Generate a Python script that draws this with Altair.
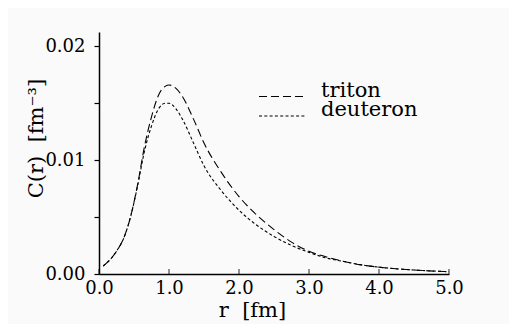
import altair as alt
import pandas as pd

r_vals = [0.06, 0.15, 0.25, 0.35, 0.45, 0.55, 0.65, 0.75, 0.85, 0.95, 1.0, 1.1, 1.2, 1.35, 1.5,
          1.75, 2.0, 2.25, 2.5, 2.75, 3.0, 3.25, 3.5, 3.75, 4.0, 4.5, 5.0]
triton = [0.0007, 0.0012, 0.0020, 0.0031, 0.0050, 0.0078, 0.0112, 0.0138, 0.0157, 0.0165, 0.0166,
          0.0163, 0.0155, 0.0136, 0.0115, 0.0089, 0.0068, 0.0052, 0.0039, 0.0028, 0.0020, 0.0015,
          0.0011, 0.0008, 0.0006, 0.00035, 0.0002]
deuteron = [0.0007, 0.0012, 0.0020, 0.0031, 0.0050, 0.0077, 0.0108, 0.0130, 0.0145, 0.0150, 0.0150,
            0.0145, 0.0135, 0.0115, 0.0095, 0.0073, 0.0056, 0.0043, 0.0033, 0.0025, 0.0019, 0.0014,
            0.0011, 0.0008, 0.0006, 0.00035, 0.0002]
series = ["triton", "deuteron"]
dashes = [[8, 4], [3, 2.3]]
x_ticks = [0, 1, 2, 3, 4, 5]
y_ticks = [0, 0.005, 0.01, 0.015, 0.02]

FONT = "DejaVu Serif"

xscale = alt.Scale(domain=[0, 5], nice=False)
yscale = alt.Scale(domain=[0, 0.02125], nice=False)

x_axis = alt.Axis(values=x_ticks, format=".1f", tickSize=0, title="r\u00a0\u00a0[fm]",
                  labelFontSize=18, labelPadding=5, labelFlush=False,
                  titleFontSize=21, titleFontWeight="normal",
                  titleX=153, titleY=42, titleBaseline="alphabetic")
y_axis = alt.Axis(values=y_ticks, tickSize=5, title="C(r)\u00a0\u00a0[fm⁻³]",
                  labelExpr="(datum.value == 0.005 || datum.value == 0.015) ? '' : format(datum.value, '.2f')",
                  labelFontSize=18, labelPadding=9, labelFlush=False,
                  titleFontSize=21, titleFontWeight="normal",
                  titleX=-63, titleY=106, titleBaseline="middle")

layers = []
legend_ys = [40, 59.5]
for i, (name, vals) in enumerate(zip(series, [triton, deuteron])):
    d = pd.DataFrame({"r": r_vals, "C": vals, "series": name})
    layers.append(
        alt.Chart(d).mark_line(color="black", strokeWidth=1.1, interpolate="monotone").encode(
            x=alt.X("r:Q", scale=xscale, axis=x_axis),
            y=alt.Y("C:Q", scale=yscale, axis=y_axis),
            strokeDash=alt.StrokeDash(
                "series:N",
                scale=alt.Scale(domain=[name], range=[dashes[i]]),
                legend=alt.Legend(title=None, orient="none", legendX=159, legendY=legend_ys[i],
                                  symbolType="stroke", symbolSize=2209, symbolStrokeWidth=1.1,
                                  symbolStrokeColor="black", labelFontSize=21, labelFont=FONT,
                                  labelColor="black", labelOffset=14, labelBaseline="alphabetic"),
            ),
        )
    )

ticks = alt.Chart(pd.DataFrame({"t": x_ticks})).mark_tick(
    color="black", orient="vertical", size=5, yOffset=-2.5, thickness=1.2
).encode(x=alt.X("t:Q", scale=xscale, axis=x_axis), y=alt.datum(0))

chart = alt.layer(*layers, ticks).resolve_scale(strokeDash="independent").resolve_legend(
    strokeDash="independent"
).properties(
    width=350, height=242,
    autosize="none",
    padding={"left": 91, "top": 24, "right": 60, "bottom": 50},
    background="#fafafa",
).configure_view(stroke=None).configure_axis(
    grid=False, domainColor="black", domainWidth=1.5, tickColor="black", tickWidth=1.2,
    labelColor="black", titleColor="black", labelFont=FONT, titleFont=FONT,
)

chart.save("out.html", embed_options={"renderer": "svg", "actions": False})
